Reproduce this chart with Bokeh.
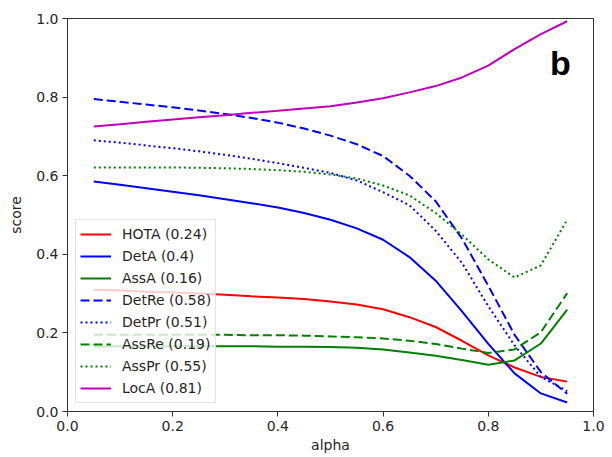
from bokeh.plotting import figure
from bokeh.models import Range1d, FixedTicker, PrintfTickFormatter, Legend, LegendItem, Label
from bokeh.embed import file_html
from bokeh.resources import INLINE

alpha = [0.05, 0.10, 0.15, 0.20, 0.25, 0.30, 0.35, 0.40, 0.45, 0.50,
         0.55, 0.60, 0.65, 0.70, 0.75, 0.80, 0.85, 0.90, 0.95]

HOTA = [0.310, 0.308, 0.305, 0.303, 0.300, 0.297, 0.293, 0.290, 0.286, 0.280,
        0.272, 0.260, 0.240, 0.215, 0.180, 0.143, 0.112, 0.088, 0.076]
DetA = [0.585, 0.577, 0.568, 0.559, 0.550, 0.540, 0.530, 0.519, 0.505, 0.488,
        0.466, 0.437, 0.393, 0.333, 0.255, 0.172, 0.097, 0.046, 0.023]
AssA = [0.165, 0.166, 0.166, 0.166, 0.166, 0.166, 0.166, 0.165, 0.165, 0.164,
        0.162, 0.158, 0.150, 0.142, 0.131, 0.119, 0.130, 0.173, 0.259]
DetRe = [0.795, 0.788, 0.781, 0.774, 0.766, 0.757, 0.747, 0.735, 0.720, 0.702,
         0.680, 0.650, 0.600, 0.535, 0.440, 0.320, 0.195, 0.100, 0.045]
DetPr = [0.690, 0.684, 0.677, 0.670, 0.662, 0.653, 0.643, 0.632, 0.620, 0.607,
         0.588, 0.558, 0.525, 0.460, 0.378, 0.268, 0.168, 0.088, 0.052]
AssRe = [0.195, 0.195, 0.195, 0.195, 0.195, 0.195, 0.194, 0.194, 0.193, 0.191,
         0.189, 0.186, 0.180, 0.172, 0.160, 0.149, 0.158, 0.202, 0.301]
AssPr = [0.621, 0.621, 0.621, 0.621, 0.620, 0.619, 0.617, 0.614, 0.610, 0.603,
         0.593, 0.575, 0.550, 0.505, 0.450, 0.387, 0.341, 0.372, 0.488]
LocA = [0.725, 0.731, 0.737, 0.743, 0.749, 0.754, 0.760, 0.765, 0.771, 0.777,
        0.786, 0.797, 0.812, 0.828, 0.850, 0.880, 0.922, 0.960, 0.993]

series_names = ["HOTA", "DetA", "AssA", "DetRe", "DetPr", "AssRe", "AssPr", "LocA"]
series_values = [HOTA, DetA, AssA, DetRe, DetPr, AssRe, AssPr, LocA]
legend_labels = ["HOTA (0.24)", "DetA (0.4)", "AssA (0.16)", "DetRe (0.58)",
                 "DetPr (0.51)", "AssRe (0.19)", "AssPr (0.55)", "LocA (0.81)"]
colors = ["#ff0000", "#0000ff", "#008000", "#0000ff", "#0000ff", "#008000", "#008000", "#bf00bf"]
dashes = ["solid", "solid", "solid", "9 4", "2 3", "9 4", "2 3", "solid"]
ticks = [0.0, 0.2, 0.4, 0.6, 0.8, 1.0]

FONT = "DejaVu Sans"
TXT = "#262626"

p = figure(width=612, height=457, output_backend="svg", toolbar_location=None,
           x_range=Range1d(0, 1), y_range=Range1d(0, 1),
           min_border_left=67, min_border_right=19, min_border_top=18, min_border_bottom=46)
p.grid.visible = False
p.outline_line_color = "#333333"
p.outline_line_width = 1
p.background_fill_color = "white"
p.border_fill_color = "white"

for ax in (p.xaxis[0], p.yaxis[0]):
    ax.ticker = FixedTicker(ticks=ticks)
    ax.formatter = PrintfTickFormatter(format="%.1f")
    ax.minor_tick_line_color = None
    ax.major_tick_in = 0
    ax.major_tick_out = 5
    ax.major_tick_line_color = "#333333"
    ax.axis_line_color = "#333333"
    ax.major_label_text_font = FONT
    ax.major_label_text_font_size = "14px"
    ax.major_label_text_color = TXT
    ax.axis_label_text_font = FONT
    ax.axis_label_text_font_size = "14px"
    ax.axis_label_text_font_style = "normal"
    ax.axis_label_text_color = TXT
    ax.major_label_standoff = 4

p.xaxis.axis_label = "alpha"
p.yaxis.axis_label = "score"
p.xaxis.axis_label_standoff = 3
p.yaxis.axis_label_standoff = 9

items = []
for name, vals, lab, c, d in zip(series_names, series_values, legend_labels, colors, dashes):
    r = p.line(alpha, vals, line_color=c, line_width=2, line_dash=d)
    items.append(LegendItem(label=lab, renderers=[r]))

legend = Legend(items=items, location="bottom_left", margin=8,
                label_text_font=FONT, label_text_font_size="14px", label_text_color=TXT,
                glyph_width=31, glyph_height=20, label_height=20, spacing=2,
                label_standoff=11, padding=4,
                border_line_color="#cccccc", border_line_width=1,
                background_fill_color="white", background_fill_alpha=0.8)
p.add_layout(legend, "center")

p.add_layout(Label(x=0.937, y=0.934, text="b", text_font="Liberation Sans",
                   text_font_size="34px", text_font_style="bold", text_color="black",
                   text_align="center", text_baseline="top"))

open("out.html", "w").write(file_html(p, INLINE))
